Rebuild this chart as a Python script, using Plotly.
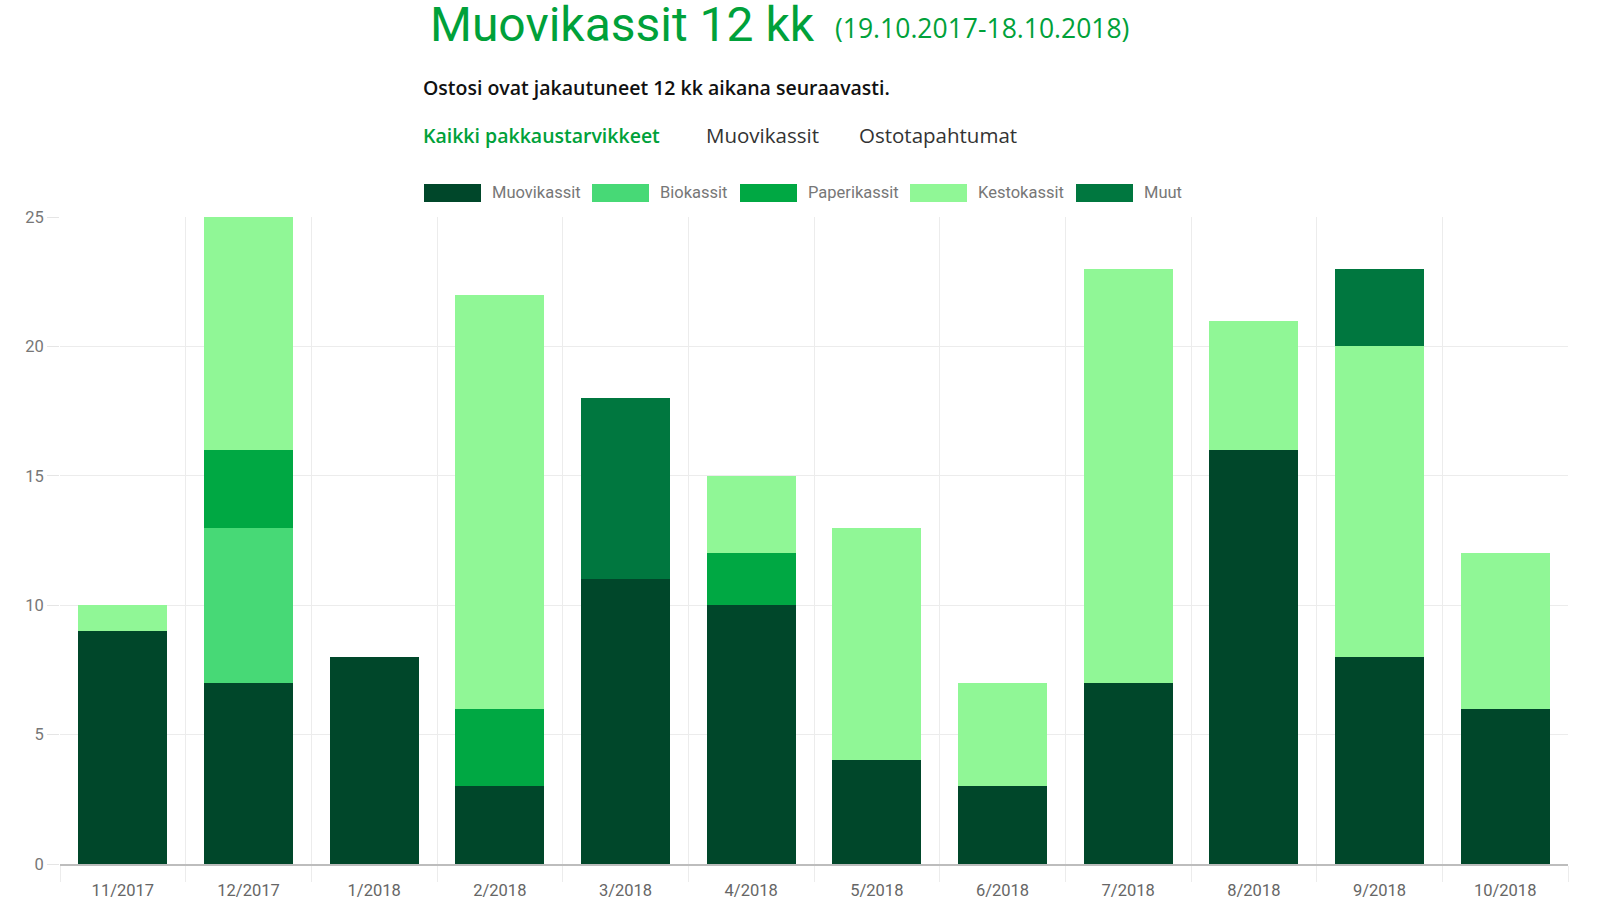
import plotly.graph_objects as go

months = ["11/2017", "12/2017", "1/2018", "2/2018", "3/2018", "4/2018",
          "5/2018", "6/2018", "7/2018", "8/2018", "9/2018", "10/2018"]

muovikassit = [9, 7, 8, 3, 11, 10, 4, 3, 7, 16, 8, 6]
biokassit = [0, 6, 0, 0, 0, 0, 0, 0, 0, 0, 0, 0]
paperikassit = [0, 3, 0, 3, 0, 2, 0, 0, 0, 0, 0, 0]
kestokassit = [1, 9, 0, 16, 0, 3, 9, 4, 16, 5, 12, 6]
muut = [0, 0, 0, 0, 7, 0, 0, 0, 0, 0, 3, 0]

series_names = ["Muovikassit", "Biokassit", "Paperikassit", "Kestokassit", "Muut"]
series_colors = ["#00472a", "#47d976", "#00a843", "#90f796", "#00773f"]
series_values = [muovikassit, biokassit, paperikassit, kestokassit, muut]

y_ticks = [0, 5, 10, 15, 20, 25]

title_main = "Muovikassit 12 kk"
title_period = "(19.10.2017-18.10.2018)"
subtitle = "Ostosi ovat jakautuneet 12 kk aikana seuraavasti."
tabs = ["Kaikki pakkaustarvikkeet", "Muovikassit", "Ostotapahtumat"]

W, H = 1600, 900
L, R, T, B = 60, 32, 217, 36
PW, PH = W - L - R, H - T - B


def px(x):
    return (x - L) / PW


def py(y):
    return (H - B - y) / PH


fig = go.Figure()
for name, color, vals in zip(series_names, series_colors, series_values):
    fig.add_trace(go.Bar(x=months, y=vals, name=name, marker=dict(color=color, line=dict(width=0)),
                         showlegend=False))

cond = "Roboto, sans-serif"
ui = "Roboto, Inter, sans-serif"
wide = "Open Sans, Roboto, sans-serif"

annotations = []
shapes = []

# Title
annotations.append(dict(text=title_main, x=px(428), y=py(24), xref="paper", yref="paper",
                        xanchor="left", yanchor="middle", showarrow=False,
                        font=dict(family=ui, size=48, color="#00a13a", weight=400)))
annotations.append(dict(text=title_period, x=px(833), y=py(28), xref="paper", yref="paper",
                        xanchor="left", yanchor="middle", showarrow=False,
                        font=dict(family=wide, size=26.5, color="#00a13a")))
annotations.append(dict(text=subtitle, x=px(421), y=py(87), xref="paper", yref="paper",
                        xanchor="left", yanchor="middle", showarrow=False,
                        font=dict(family=wide, size=19.5, color="#111111", weight=600)))
tab_x = [421, 704, 857]
tab_colors = ["#00a13a", "#333333", "#333333"]
tab_weights = [600, 400, 400]
tab_sizes = [19.5, 20.5, 20.5]
for t, x, c, w, s in zip(tabs, tab_x, tab_colors, tab_weights, tab_sizes):
    annotations.append(dict(text=t, x=px(x), y=py(135), xref="paper", yref="paper",
                            xanchor="left", yanchor="middle", showarrow=False,
                            font=dict(family=wide, size=s, color=c, weight=w)))

# Custom legend
leg_swatch_x = [424, 592, 740, 910, 1076]
for name, color, sx in zip(series_names, series_colors, leg_swatch_x):
    shapes.append(dict(type="rect", xref="paper", yref="paper",
                       x0=px(sx), x1=px(sx + 57), y0=py(202), y1=py(184),
                       fillcolor=color, line=dict(width=0)))
    annotations.append(dict(text=name, x=px(sx + 66), y=py(193), xref="paper", yref="paper",
                            xanchor="left", yanchor="middle", showarrow=False,
                            font=dict(family=cond, size=16.5, color="#777777")))

fig.update_layout(
    width=W, height=H,
    margin=dict(l=L, r=R, t=T, b=B, pad=0),
    paper_bgcolor="white", plot_bgcolor="white",
    barmode="stack", bargap=0.29,
    annotations=annotations, shapes=shapes,
    showlegend=False,
    xaxis=dict(type="category", tickson="boundaries", showgrid=True, gridcolor="#ececec",
               ticks="outside", ticklen=16, tickcolor="#ececec", tickwidth=1,
               ticklabelstandoff=10,
               showline=True, linecolor="#bdbdbd", linewidth=1.5, automargin=False,
               tickfont=dict(family=cond, size=16.5, color="#666666"), fixedrange=True),
    yaxis=dict(range=[0, 25], tickvals=y_ticks, showgrid=True, gridcolor="#ececec",
               ticks="outside", ticklen=12, tickcolor="#e5e5e5", zeroline=False,
               showline=False, automargin=False,
               tickfont=dict(family=cond, size=16.5, color="#777777"),
               fixedrange=True),
)

fig.write_html("out.html")
